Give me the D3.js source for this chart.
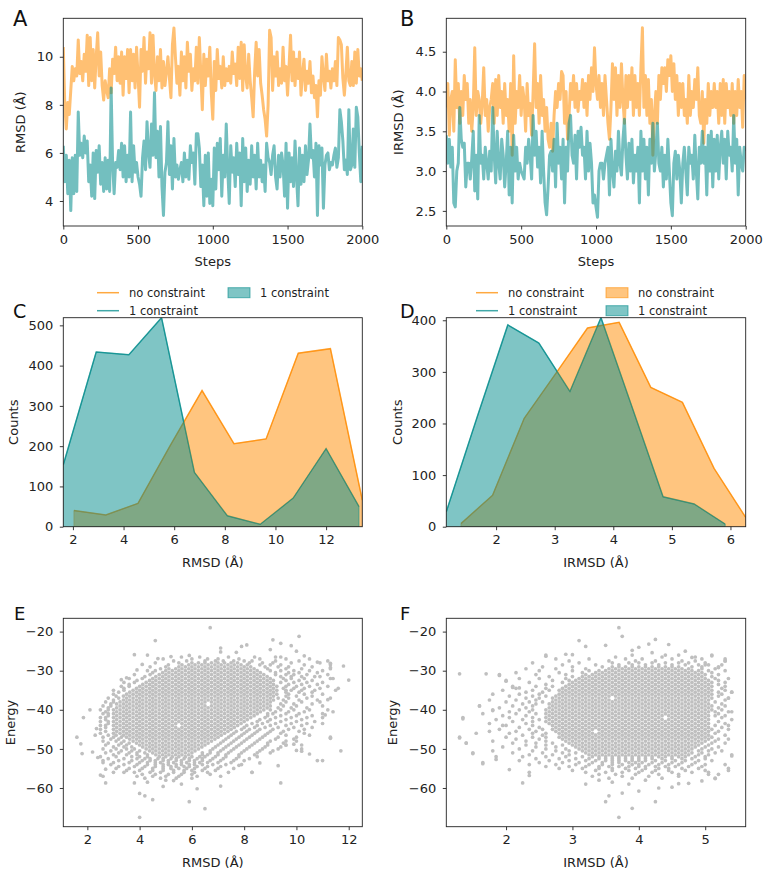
<!DOCTYPE html>
<html><head><meta charset="utf-8">
<script src="https://cdn.jsdelivr.net/npm/d3@7"></script>
<style>body{margin:0;background:#fff;}</style>
</head><body><svg id="fig" width="769" height="879" xmlns="http://www.w3.org/2000/svg"></svg>
<script>
// ---------------- DATA ----------------
const stepInterval = 10;
const stepTicks = [0, 500, 1000, 1500, 2000];
const seriesNames = ["no constraint", "1 constraint"];

const rmsdNoConstraint = [
10.4,8.0,7.0,8.1,7.6,8.6,9.6,9.0,9.5,9.2,
10.7,9.3,9.8,9.0,10.1,9.4,10.9,8.8,10.8,9.0,
10.3,8.7,10.0,11.0,9.2,10.2,8.8,8.2,9.0,8.6,
8.3,9.5,8.5,9.9,9.3,10.4,9.0,10.0,8.9,10.2,
8.4,10.0,9.1,10.3,8.5,10.3,9.0,10.1,8.7,10.4,
9.2,7.9,10.3,9.4,10.8,8.9,10.2,9.5,11.0,8.9,
10.9,9.3,8.6,10.0,9.0,10.3,8.7,9.8,8.8,9.4,
10.0,9.1,8.3,10.5,11.2,10.0,8.9,9.6,8.4,10.2,
9.0,10.0,8.7,10.6,9.4,10.1,8.6,9.5,9.0,10.4,
8.9,10.8,9.3,7.8,10.1,8.8,9.9,9.2,10.4,8.5,
7.4,9.8,8.6,10.3,9.1,9.6,8.7,10.0,8.8,9.5,
9.0,9.6,8.9,10.2,9.3,9.7,8.8,10.4,9.1,10.6,
8.6,10.5,9.2,8.7,10.1,9.0,8.3,7.5,9.4,10.6,
9.2,10.3,8.9,8.4,7.8,7.4,6.7,8.0,11.1,10.8,
8.6,10.0,9.2,10.2,8.8,9.5,8.9,10.4,9.0,9.6,
8.4,9.6,10.9,9.0,10.2,8.8,9.9,9.1,10.2,8.4,
9.3,9.9,8.6,9.4,8.9,9.8,8.5,9.2,8.3,8.8,
7.5,9.0,8.4,10.0,9.2,8.6,10.1,9.0,9.4,8.7,
9.5,9.0,9.8,8.8,10.8,10.7,10.5,9.1,8.4,9.3,
10.4,9.0,8.8,9.8,8.8,10.2,8.9,10.3,9.2,9.5,
9.0];
const rmsdOneConstraint = [
6.3,4.8,5.9,4.3,5.7,3.6,5.8,4.3,5.9,4.4,
7.7,5.9,6.4,5.8,6.7,6.0,6.5,4.8,5.5,4.2,
6.0,4.1,6.1,5.2,6.3,4.7,5.6,4.4,5.8,4.5,
5.7,4.4,8.7,5.5,4.3,5.6,5.4,6.1,5.3,6.4,
5.0,6.3,4.8,5.9,5.0,7.7,4.8,6.3,5.2,5.6,
5.0,4.7,4.2,5.8,6.5,5.3,7.3,6.0,5.4,7.2,
5.9,8.5,5.8,6.9,5.0,7.1,4.6,3.4,5.2,5.6,
7.3,5.1,6.3,4.5,6.6,5.0,5.5,4.9,5.3,5.6,
4.8,6.0,5.0,5.7,4.9,6.3,5.6,6.0,4.7,6.8,
6.8,6.2,4.6,5.5,3.8,5.9,4.2,6.0,3.9,4.9,
3.8,6.2,4.5,6.4,5.3,6.6,4.2,5.9,5.0,7.2,
5.3,3.9,6.3,5.2,5.8,4.6,6.4,5.1,6.0,3.8,
6.6,4.8,6.2,4.4,5.7,4.7,6.3,5.0,5.9,4.5,
6.4,5.0,5.7,4.8,5.5,4.4,6.4,5.8,5.6,5.1,
5.9,6.3,5.0,4.5,5.9,5.0,6.0,5.5,4.2,6.4,
3.7,6.0,4.8,5.8,4.6,6.5,5.0,3.8,6.2,4.7,
5.9,4.8,6.3,5.1,5.7,7.2,5.8,6.1,5.0,6.4,
3.4,6.3,5.5,6.2,3.7,5.5,5.9,6.0,5.3,5.6,
5.5,5.9,6.2,5.4,5.8,7.8,7.3,6.5,5.3,5.7,
5.1,7.8,5.3,5.5,7.0,5.4,7.9,7.5,6.0,4.8,
6.3];
const irmsdNoConstraint = [
3.8,4.1,3.45,3.9,4.0,3.5,4.4,3.8,4.1,3.6,
4.0,3.7,4.2,3.9,4.1,3.6,3.9,3.5,3.8,4.55,
3.7,4.0,3.9,3.6,3.85,4.3,3.7,3.9,3.5,3.8,
3.9,4.1,3.6,4.15,3.7,4.2,3.8,4.0,3.6,4.1,
3.7,3.9,3.5,4.1,3.2,4.45,3.6,4.0,3.8,4.2,
3.7,4.05,3.9,3.5,4.1,3.7,3.85,3.45,4.0,4.6,
3.8,4.1,3.6,4.2,3.7,3.9,3.5,3.8,3.4,3.3,
3.6,3.25,3.7,4.0,3.8,4.1,3.9,4.25,4.2,3.6,
4.0,3.4,3.7,4.1,3.9,4.2,3.8,4.1,3.75,4.0,
3.9,4.15,3.8,4.1,3.7,4.2,3.9,4.3,4.0,4.55,
4.1,3.9,4.2,3.8,4.1,3.7,4.2,3.9,3.6,3.4,
3.8,4.35,3.9,4.3,3.7,4.2,3.8,4.35,3.9,3.6,
4.2,3.8,4.2,3.9,4.3,3.7,4.2,3.8,4.1,3.7,
4.3,4.8,3.8,4.2,3.7,4.15,3.6,3.9,3.2,3.7,
4.0,3.6,4.2,3.9,4.3,4.1,4.3,4.0,4.4,4.2,
4.45,4.0,4.35,3.9,4.2,3.7,4.1,3.8,4.1,3.7,
3.9,3.6,4.2,3.7,4.0,3.8,4.15,3.9,4.3,3.7,
3.6,4.0,3.35,3.9,3.6,4.1,3.7,4.0,3.8,4.1,
3.8,4.0,3.6,4.1,3.7,4.15,3.6,4.1,3.8,4.0,
3.7,4.1,3.6,4.0,3.7,4.15,3.8,4.0,3.55,4.2,
3.9];
const irmsdOneConstraint = [
3.45,3.1,3.4,3.05,3.3,2.6,2.55,3.0,3.1,3.8,
3.4,3.3,3.35,2.8,3.1,3.1,2.9,3.15,3.5,2.75,
3.2,2.65,3.7,3.1,3.2,2.9,3.3,3.1,2.9,3.25,
3.0,3.8,3.2,2.85,3.5,3.1,2.9,3.4,3.2,2.8,
3.1,3.5,2.7,3.3,2.6,3.45,3.0,3.3,2.9,3.1,
3.0,2.95,2.9,3.3,3.1,3.4,3.2,2.9,3.7,3.2,
3.5,3.05,3.3,2.85,3.5,3.0,2.6,2.45,2.8,3.2,
3.25,3.0,3.4,2.8,3.6,3.1,3.3,2.9,3.4,2.6,
3.3,3.0,3.6,3.7,3.2,3.1,3.45,2.9,3.5,3.3,
3.55,3.2,3.3,2.9,3.5,3.0,3.35,3.1,2.6,2.7,
2.55,2.42,3.0,3.1,3.1,2.9,3.1,3.2,3.3,2.7,
3.4,3.0,2.8,3.25,3.0,3.5,3.1,2.95,3.4,3.65,
3.2,2.9,3.35,3.0,3.4,2.85,3.2,3.0,3.3,2.6,
3.5,3.0,3.4,2.9,3.3,2.7,3.4,3.1,3.6,3.0,
3.25,3.6,3.1,3.0,3.3,2.8,3.2,2.9,3.4,3.0,
2.6,2.44,3.1,3.25,2.9,3.2,3.0,2.6,3.1,3.3,
3.0,2.7,3.3,3.1,3.2,2.9,3.45,3.0,2.65,3.3,
3.1,3.5,3.1,3.3,2.7,3.45,3.0,3.5,2.8,3.4,
3.0,3.45,2.9,3.3,3.5,3.1,3.4,2.9,3.5,3.2,
3.3,3.0,3.7,3.1,3.4,2.7,3.3,3.1,3.0,3.3,
3.25];

// histogram (frequency polygon) data
const histRmsdNoX  = [2.04,3.30,4.57,5.83,7.10,8.36,9.63,10.90,12.17,13.43];
const histRmsdNoY  = [40,29,58,200,338,206,218,431,442,66];
const histRmsdOneX = [1.62,2.92,4.21,5.50,6.80,8.10,9.40,10.70,12.00,13.30];
const histRmsdOneY = [154,434,427,519,135,27,6,71,194,50];
const histIrmsdNoX  = [1.40,1.94,2.48,3.02,3.56,4.10,4.64,5.18,5.72,6.26];
const histIrmsdNoY  = [6,61,210,297,385,396,270,241,113,18];
const histIrmsdOneX = [1.15,1.67,2.20,2.73,3.26,3.79,4.32,4.85,5.38,5.91];
const histIrmsdOneY = [29,210,391,356,262,405,232,58,44,5];

// scatter E: RMSD vs Energy -- rows [energy, [rmsd values]] + isolated points
const energyRmsdRows = [
[-26.5,[5.6,6.3,7.4,8.4,9.2]],
[-27,[4.9,6.0,6.6,7.0,7.8,8.6,9.6,10.5]],
[-27.5,[5.3,5.8,6.5,6.9,7.2,7.6,8.0,8.3,9.2,10.1,11.2]],
[-28,[4.6,5.5,6.0,6.25,6.5,6.75,7.0,7.25,7.5,7.75,8.2,8.7,9.1,9.8,10.9]],
[-28.5,[5.1,5.62,5.88,6.12,6.38,6.62,6.88,7.12,7.38,7.62,7.88,8.12,8.6,9.0,9.4,10.3,11.3]],
[-29,[4.4,5.0,5.5,5.75,6.0,6.25,6.5,6.75,7.0,7.25,7.5,7.75,8.0,8.25,8.8,9.3,9.7,10.6]],
[-29.5,[4.8,5.12,5.38,5.62,5.88,6.12,6.38,6.62,6.88,7.12,7.38,7.62,7.88,8.12,8.38,8.9,9.6,10.2,11.3]],
[-30,[4.3,4.6,5.0,5.25,5.5,5.75,6.0,6.25,6.5,6.75,7.0,7.25,7.5,7.75,8.0,8.25,8.5,9.0,9.4,9.9,10.5,11.0]],
[-30.5,[4.5,4.88,5.12,5.38,5.62,5.88,6.12,6.38,6.62,6.88,7.12,7.38,7.62,7.88,8.12,8.38,8.62,9.2,9.7,10.1,10.8]],
[-31,[3.8,4.4,4.75,5.0,5.25,5.5,5.75,6.0,6.25,6.5,6.75,7.0,7.25,7.5,7.75,8.0,8.25,8.5,8.75,9.2,9.6,9.9,10.4,11.2]],
[-31.5,[4.2,4.62,4.88,5.12,5.38,5.62,5.88,6.12,6.38,6.62,6.88,7.12,7.38,7.62,7.88,8.12,8.38,8.62,8.88,9.4,9.8,10.2,10.7]],
[-32,[3.6,4.1,4.5,4.75,5.0,5.25,5.5,5.75,6.0,6.25,6.5,6.75,7.0,7.25,7.5,7.75,8.0,8.25,8.5,8.75,9.0,9.5,9.8,10.3,11.3]],
[-32.5,[3.9,4.38,4.62,4.88,5.12,5.38,5.62,5.88,6.12,6.38,6.62,6.88,7.12,7.38,7.62,7.88,8.12,8.38,8.62,8.88,9.12,9.6,10.1,10.6]],
[-33,[3.4,3.8,4.25,4.5,4.75,5.0,5.25,5.5,5.75,6.0,6.25,6.5,6.75,7.0,7.25,7.5,7.75,8.0,8.25,8.5,8.75,9.0,9.4,9.9,10.4,11.0]],
[-33.5,[3.6,4.12,4.38,4.62,4.88,5.12,5.38,5.62,5.88,6.12,6.38,6.62,6.88,7.12,7.38,7.62,7.88,8.12,8.38,8.62,8.88,9.12,9.7,10.2,10.8]],
[-34,[3.3,3.6,4.0,4.25,4.5,4.75,5.0,5.25,5.5,5.75,6.0,6.25,6.5,6.75,7.0,7.25,7.5,7.75,8.0,8.25,8.5,8.75,9.0,9.25,9.6,10.0,10.5,11.2]],
[-34.5,[3.4,3.88,4.12,4.38,4.62,4.88,5.12,5.38,5.62,5.88,6.12,6.38,6.62,6.88,7.12,7.38,7.62,7.88,8.12,8.38,8.62,8.88,9.12,9.5,9.9,10.3,10.9]],
[-35,[3.0,3.4,3.75,4.0,4.25,4.5,4.75,5.0,5.25,5.5,5.75,6.0,6.25,6.5,6.75,7.0,7.25,7.5,7.75,8.0,8.25,8.5,8.75,9.0,9.25,9.6,9.8,10.2,10.7,11.5]],
[-35.5,[3.2,3.62,3.88,4.12,4.38,4.62,4.88,5.12,5.38,5.62,5.88,6.12,6.38,6.62,6.88,7.12,7.38,7.62,7.88,8.12,8.38,8.62,8.88,9.12,9.6,10.1,10.6]],
[-36,[3.0,3.5,3.75,4.0,4.25,4.5,4.75,5.0,5.25,5.5,5.75,6.0,6.25,6.5,6.75,7.0,7.25,7.5,7.75,8.0,8.25,8.5,8.75,9.0,9.25,9.7,10.3,11.0]],
[-36.5,[3.1,3.38,3.62,3.88,4.12,4.38,4.62,4.88,5.12,5.38,5.62,5.88,6.12,6.38,6.62,6.88,7.12,7.38,7.62,7.88,8.12,8.38,8.62,8.88,9.12,9.6,10.0,10.6]],
[-37,[2.8,3.2,3.5,3.75,4.0,4.25,4.5,4.75,5.0,5.25,5.5,5.75,6.0,6.25,6.5,6.75,7.0,7.25,7.5,7.75,8.0,8.25,8.5,8.75,9.0,9.3,9.7,10.4,11.3]],
[-37.5,[3.0,3.38,3.62,3.88,4.12,4.38,4.62,4.88,5.12,5.38,5.62,5.88,6.12,6.38,6.62,6.88,7.12,7.38,7.62,7.88,8.12,8.38,8.62,8.88,9.12,9.5,10.1,10.8]],
[-38,[2.7,3.0,3.25,3.5,3.75,4.0,4.25,4.5,4.75,5.0,5.25,5.5,5.75,6.0,6.25,6.5,6.75,7.0,7.25,7.5,7.75,8.0,8.25,8.5,8.75,9.0,9.6,10.2,10.9]],
[-38.5,[2.9,3.12,3.38,3.62,3.88,4.12,4.38,4.62,4.88,5.12,5.38,5.62,5.88,6.12,6.38,6.88,7.12,7.38,7.62,7.88,8.12,8.38,8.62,8.88,9.4,9.9,10.6]],
[-39,[2.6,2.9,3.25,3.5,3.75,4.0,4.25,4.5,4.75,5.0,5.25,5.5,5.75,6.0,6.25,6.5,6.75,7.0,7.25,7.5,7.75,8.0,8.25,8.5,8.75,9.0,9.5,10.0,11.0]],
[-39.5,[2.8,3.12,3.38,3.62,3.88,4.12,4.38,4.62,4.88,5.12,5.38,5.62,5.88,6.12,6.38,6.62,6.88,7.12,7.38,7.62,7.88,8.12,8.38,8.62,8.88,9.3,9.8,10.4]],
[-40,[2.5,2.8,3.0,3.25,3.5,3.75,4.0,4.25,4.5,4.75,5.0,5.25,5.5,5.75,6.0,6.25,6.5,6.75,7.0,7.25,7.5,7.75,8.0,8.25,8.5,8.75,9.0,9.4,9.9,10.5,11.2]],
[-40.5,[2.7,3.12,3.38,3.62,3.88,4.12,4.38,4.62,4.88,5.12,5.38,5.62,5.88,6.12,6.38,6.62,6.88,7.12,7.38,7.62,7.88,8.12,8.38,8.62,9.2,9.7,10.3]],
[-41,[2.6,2.8,3.0,3.25,3.5,3.75,4.0,4.25,4.5,4.75,5.0,5.25,5.5,5.75,6.0,6.25,6.5,6.75,7.0,7.25,7.5,7.75,8.0,8.25,8.5,8.9,9.1,9.6,10.1,11.0]],
[-41.5,[2.8,3.12,3.38,3.62,3.88,4.12,4.38,4.62,4.88,5.12,5.38,5.62,5.88,6.12,6.38,6.62,6.88,7.12,7.38,7.62,7.88,8.12,8.38,8.9,9.4,10.0,10.6]],
[-42,[2.5,2.7,3.0,3.25,3.5,3.75,4.0,4.25,4.5,4.75,5.0,5.25,5.5,5.75,6.0,6.25,6.5,6.75,7.0,7.25,7.5,7.75,8.0,8.25,8.8,9.2,9.8,10.4,11.0]],
[-42.5,[2.7,3.12,3.38,3.62,3.88,4.12,4.38,4.62,4.88,5.12,5.38,5.62,5.88,6.12,6.38,6.62,6.88,7.12,7.38,7.62,7.88,8.12,8.6,9.0,9.6,10.2]],
[-43,[2.5,2.8,3.0,3.25,3.5,3.75,4.0,4.25,4.5,4.75,5.0,5.25,5.5,5.75,6.0,6.25,6.5,6.75,7.0,7.25,7.5,7.75,8.0,8.5,8.9,9.4,10.0,10.7]],
[-43.5,[2.8,3.12,3.38,3.62,3.88,4.12,4.38,4.62,4.88,5.12,5.38,5.62,5.88,6.12,6.38,6.62,6.88,7.12,7.38,7.62,7.88,8.3,8.7,9.2,9.8,10.4]],
[-44,[2.5,2.7,3.0,3.25,3.5,3.75,4.0,4.25,4.5,4.75,5.0,5.25,5.75,6.0,6.25,6.5,6.75,7.0,7.25,7.5,7.75,8.1,8.5,9.0,9.6,10.2]],
[-44.5,[2.7,3.12,3.38,3.62,3.88,4.12,4.38,4.62,4.88,5.12,5.38,5.62,5.88,6.12,6.38,6.62,6.88,7.12,7.38,7.62,8.0,8.4,8.8,9.3,9.9,10.6]],
[-45,[2.5,3.0,3.25,3.5,3.75,4.0,4.25,4.5,4.75,5.0,5.25,5.5,5.75,6.0,6.25,6.5,6.75,7.0,7.25,7.5,7.9,8.2,8.6,9.1,9.7,10.3]],
[-45.5,[2.7,3.12,3.38,3.62,3.88,4.12,4.38,4.62,4.88,5.12,5.38,5.62,5.88,6.12,6.38,6.62,6.88,7.12,7.38,7.7,8.1,8.5,9.0,9.5,10.1]],
[-46,[2.5,3.0,3.25,3.5,3.75,4.0,4.25,4.5,4.75,5.0,5.25,5.5,5.75,6.0,6.25,6.5,6.75,7.0,7.25,7.6,8.0,8.4,8.9,9.4,10.3]],
[-46.5,[2.8,3.1,3.38,3.62,3.88,4.12,4.38,4.62,4.88,5.12,5.38,5.62,5.88,6.12,6.38,6.62,6.88,7.12,7.5,7.9,8.3,8.8,9.6,10.5]],
[-47,[2.6,3.0,3.3,3.5,3.75,4.0,4.25,4.5,4.75,5.0,5.25,5.5,5.75,6.0,6.25,6.5,6.75,7.0,7.4,7.8,8.2,8.7,9.3,10.0,11.3]],
[-47.5,[2.9,3.2,3.62,3.88,4.12,4.38,4.62,4.88,5.12,5.38,5.62,5.88,6.12,6.38,6.62,6.88,7.3,7.7,8.1,8.6,9.2,9.9]],
[-48,[2.6,3.1,3.4,3.75,4.0,4.25,4.5,4.75,5.0,5.25,5.5,5.75,6.0,6.25,6.5,6.75,7.2,7.6,8.0,8.5,9.0,9.6,10.0]],
[-48.5,[2.8,3.3,3.6,3.88,4.12,4.38,4.62,4.88,5.12,5.38,5.62,5.88,6.12,6.38,6.62,7.1,7.5,7.9,8.4,8.9,9.5]],
[-49,[2.7,3.2,3.5,4.0,4.25,4.5,4.75,5.0,5.25,5.5,5.75,6.0,6.25,6.5,7.0,7.4,7.8,8.3,8.9,9.6,10.2]],
[-49.5,[3.0,3.4,3.7,4.12,4.38,4.62,4.88,5.12,5.38,5.62,5.88,6.12,6.38,6.9,7.3,7.7,8.2,8.8,9.4]],
[-50,[2.6,3.1,3.5,3.8,4.25,4.5,4.75,5.0,5.25,5.5,5.75,6.0,6.25,6.8,7.2,7.6,8.1,8.7,9.3,10.2]],
[-50.5,[2.9,3.3,3.7,4.0,4.38,4.62,4.88,5.12,5.38,5.62,5.88,6.12,6.7,7.1,7.5,8.0,8.6,9.1]],
[-51,[2.7,3.2,3.6,3.9,4.2,4.5,4.75,5.0,5.25,5.5,5.75,6.0,6.4,6.7,7.0,7.4,7.9,8.5,9.0]],
[-51.5,[3.0,3.5,3.9,4.3,4.62,4.88,5.12,5.38,5.62,5.88,6.4,6.6,7.0,7.3,7.8,8.4]],
[-52,[2.5,3.1,3.7,4.0,4.3,4.75,5.0,5.25,5.5,5.75,6.0,6.3,6.5,6.9,7.3,7.8,8.5]],
[-52.5,[2.8,3.4,3.9,4.2,4.4,4.7,4.9,5.2,5.4,5.7,5.9,6.2,6.4,6.8,7.2,7.7,8.2]],
[-53,[2.6,3.2,3.7,4.1,4.4,4.6,4.9,5.1,5.4,5.6,5.9,6.1,6.4,6.7,7.1,7.6,8.0]],
[-53.5,[3.0,3.6,4.0,4.3,4.6,4.8,5.1,5.3,5.6,5.8,6.1,6.3,6.6,7.0,7.5]],
[-54,[2.9,3.4,3.9,4.3,4.6,4.9,5.1,5.4,5.6,5.9,6.1,6.4,6.8,7.3,7.9]],
[-54.5,[3.2,3.8,4.2,4.6,4.9,5.2,5.4,5.7,5.9,6.2,6.6,7.1]],
[-55,[3.1,3.6,4.1,4.5,4.9,5.2,5.5,5.8,6.1,6.5,7.0,7.6]],
[-55.5,[3.5,4.0,4.5,4.9,5.3,5.7,6.0,6.4,6.9]],
[-56,[3.4,3.8,4.4,4.8,5.3,5.7,6.1,6.6,7.4,8.3]],
[-56.5,[4.1,4.6,5.1,5.6,6.0,6.7]],
[-57,[2.6,3.9,4.5,5.0,5.5,6.2,7.1]],
[-57.5,[4.2,4.8,5.4,6.0]]
];
const energyRmsdSingles = [
[6.7,-19.0],[10.1,-21.2],[4.6,-22.3],[9.1,-22.1],[9.4,-23.0],[9.8,-23.6],[8.1,-23.4],[7.9,-23.8],[7.1,-24.2],[7.1,-25.2],
[7.7,-25.3],[9.0,-24.6],[10.0,-25.0],[3.8,-25.9],[4.3,-26.0],[9.4,-26.5],[10.3,-26.2],[10.8,-27.8],[11.3,-28.1],[11.8,-28.8],
[12.0,-32.4],[11.6,-34.5],[11.3,-29.2],[11.4,-32.0],[10.9,-31.5],[11.2,-37.4],[11.4,-40.5],[11.1,-41.3],[11.0,-43.5],[11.3,-47.3],
[11.7,-50.5],[11.0,-53.0],[10.8,-53.0],[10.5,-51.3],[10.2,-50.6],[10.0,-50.4],[9.9,-48.8],[9.6,-49.0],[9.4,-58.7],[9.3,-54.3],
[8.3,-56.0],[8.6,-53.6],[7.8,-54.2],[7.1,-59.5],[6.2,-60.2],[5.9,-63.5],[6.5,-65.3],[4.0,-67.5],[4.5,-63.0],[4.2,-62.0],
[4.0,-61.4],[3.8,-58.7],[4.3,-58.5],[4.9,-59.6],[5.0,-58.0],[5.3,-58.1],[5.6,-59.0],[2.7,-58.7],[2.5,-56.7],[2.4,-52.2],
[1.6,-47.0],[1.75,-48.7],[1.8,-51.2],[1.85,-42.0],[2.1,-40.0],[2.3,-46.5],[2.2,-50.8],[2.35,-44.8],[2.6,-53.5],[2.7,-55.2],
[3.0,-56.0],[3.3,-32.3],[3.5,-31.8],[3.9,-29.8],[4.1,-28.4],[4.7,-26.9],[5.2,-26.4],[5.9,-26.1]
];

// scatter F: IRMSD vs Energy
const energyIrmsdRows = [
[-26,[2.6,3.9,4.6,5.1]],
[-26.5,[3.65,4.35,4.85]],
[-27,[2.75,3.25,3.8,4.05,4.5,4.95,5.3]],
[-27.5,[2.95,3.55,3.95,4.25,4.65,4.85,5.3]],
[-28,[2.4,3.1,3.6,3.85,4.0,4.2,4.4,4.6,4.75,5.0]],
[-28.5,[2.85,3.35,3.7,3.9,4.1,4.3,4.5,4.7,4.9,5.05,5.25]],
[-29,[2.55,3.0,3.45,3.6,3.7,3.8,3.9,4.0,4.1,4.2,4.3,4.4,4.5,4.6,4.8,4.95,5.2]],
[-29.5,[2.3,2.75,3.2,3.55,3.65,3.75,3.85,3.95,4.05,4.15,4.25,4.35,4.45,4.55,4.65,4.75,4.95,5.15]],
[-30,[2.5,3.0,3.25,3.4,3.5,3.6,3.7,3.8,3.9,4.0,4.1,4.2,4.3,4.4,4.5,4.6,4.7,4.8,4.9,5.05,5.3]],
[-30.5,[2.15,2.8,3.15,3.35,3.45,3.55,3.65,3.75,3.85,3.95,4.05,4.15,4.25,4.35,4.45,4.55,4.65,4.75,4.85,4.95,5.1]],
[-31,[1.9,2.45,2.9,3.2,3.3,3.4,3.5,3.6,3.7,3.8,3.9,4.0,4.1,4.2,4.3,4.4,4.5,4.6,4.7,4.8,4.9,5.0,5.2]],
[-31.5,[2.65,3.0,3.15,3.25,3.35,3.45,3.55,3.65,3.75,3.85,3.95,4.05,4.15,4.25,4.35,4.45,4.55,4.65,4.75,4.85,4.95,5.1]],
[-32,[2.2,2.5,2.9,3.1,3.2,3.3,3.4,3.5,3.6,3.7,3.8,3.9,4.0,4.1,4.2,4.3,4.4,4.5,4.6,4.7,4.8,4.9,5.0,5.15,5.35]],
[-32.5,[2.0,2.7,2.95,3.05,3.15,3.25,3.35,3.45,3.55,3.65,3.75,3.85,3.95,4.05,4.15,4.25,4.35,4.45,4.55,4.65,4.75,4.85,4.95,5.05,5.2]],
[-33,[2.35,2.85,3.0,3.1,3.2,3.3,3.4,3.5,3.6,3.7,3.8,3.9,4.0,4.1,4.2,4.3,4.4,4.5,4.6,4.7,4.8,4.9,5.0,5.1,5.3]],
[-33.5,[2.6,2.95,3.05,3.15,3.25,3.35,3.45,3.55,3.65,3.75,3.85,3.95,4.05,4.15,4.25,4.35,4.45,4.55,4.65,4.75,4.85,4.95,5.05,5.2]],
[-34,[2.1,2.45,2.7,2.9,3.0,3.1,3.2,3.3,3.4,3.5,3.6,3.7,3.8,3.9,4.0,4.1,4.2,4.3,4.4,4.5,4.6,4.7,4.8,4.9,5.0,5.1,5.3]],
[-34.5,[2.15,2.6,2.85,2.95,3.05,3.15,3.25,3.35,3.45,3.55,3.65,3.75,3.85,3.95,4.05,4.15,4.25,4.35,4.45,4.55,4.65,4.75,4.85,4.95,5.05,5.25]],
[-35,[1.95,2.4,2.65,2.8,2.9,3.0,3.1,3.2,3.3,3.4,3.5,3.6,3.7,3.8,3.9,4.0,4.1,4.2,4.3,4.4,4.5,4.6,4.7,4.8,4.9,5.0,5.1,5.3]],
[-35.5,[2.3,2.55,2.85,2.95,3.05,3.15,3.25,3.35,3.45,3.55,3.65,3.75,3.85,3.95,4.05,4.15,4.25,4.35,4.45,4.55,4.65,4.75,4.85,4.95,5.05,5.2,5.4]],
[-36,[1.8,2.2,2.5,2.8,2.9,3.0,3.1,3.2,3.3,3.4,3.5,3.6,3.7,3.8,3.9,4.0,4.1,4.2,4.3,4.4,4.5,4.6,4.7,4.8,4.9,5.0,5.1,5.25]],
[-36.5,[2.05,2.4,2.6,2.75,2.85,2.95,3.05,3.15,3.25,3.35,3.45,3.55,3.65,3.75,3.85,3.95,4.05,4.15,4.25,4.35,4.45,4.55,4.65,4.75,4.85,4.95,5.05,5.2]],
[-37,[2.3,2.5,2.7,2.8,2.9,3.0,3.1,3.2,3.3,3.4,3.5,3.7,3.8,3.9,4.0,4.1,4.2,4.3,4.4,4.5,4.6,4.7,4.8,4.9,5.0,5.1,5.35]],
[-37.5,[1.75,2.15,2.45,2.75,2.85,2.95,3.05,3.15,3.25,3.35,3.45,3.55,3.65,3.75,3.85,3.95,4.05,4.15,4.25,4.35,4.45,4.55,4.65,4.75,4.85,4.95,5.05,5.3]],
[-38,[2.0,2.35,2.55,2.7,2.8,2.9,3.0,3.1,3.2,3.3,3.4,3.5,3.6,3.7,3.8,3.9,4.0,4.1,4.2,4.3,4.4,4.5,4.6,4.7,4.8,4.9,5.0,5.15]],
[-38.5,[2.25,2.45,2.65,2.75,2.85,2.95,3.05,3.15,3.25,3.35,3.45,3.55,3.65,3.75,3.85,3.95,4.05,4.15,4.25,4.35,4.45,4.55,4.65,4.75,4.85,4.95,5.05,5.25]],
[-39,[1.6,2.1,2.4,2.7,2.8,2.9,3.0,3.1,3.2,3.3,3.4,3.5,3.6,3.7,3.8,3.9,4.0,4.1,4.2,4.3,4.4,4.5,4.6,4.7,4.8,4.9,5.0,5.1,5.3]],
[-39.5,[1.9,2.3,2.65,2.75,2.85,2.95,3.05,3.15,3.25,3.35,3.45,3.55,3.65,3.75,3.85,3.95,4.05,4.15,4.25,4.35,4.45,4.55,4.65,4.75,4.85,4.95,5.05,5.2]],
[-40,[1.8,2.2,2.4,2.6,2.7,2.8,2.9,3.0,3.1,3.2,3.3,3.4,3.5,3.6,3.7,3.8,3.9,4.0,4.1,4.2,4.3,4.4,4.5,4.6,4.7,4.8,4.9,5.0,5.1,5.25]],
[-40.5,[2.05,2.35,2.65,2.75,2.85,2.95,3.05,3.15,3.25,3.35,3.45,3.55,3.65,3.75,3.85,3.95,4.05,4.15,4.25,4.35,4.45,4.55,4.65,4.75,4.85,4.95,5.05,5.15,5.35]],
[-41,[1.65,2.15,2.45,2.6,2.7,2.8,2.9,3.0,3.1,3.2,3.3,3.4,3.5,3.6,3.7,3.8,3.9,4.0,4.1,4.2,4.3,4.4,4.5,4.6,4.7,4.8,4.9,5.0,5.2]],
[-41.5,[1.95,2.3,2.65,2.75,2.85,2.95,3.05,3.15,3.25,3.35,3.45,3.55,3.65,3.75,3.85,3.95,4.05,4.15,4.25,4.35,4.45,4.55,4.65,4.75,4.85,4.95,5.05,5.15,5.3]],
[-42,[1.35,2.05,2.4,2.6,2.7,2.8,2.9,3.0,3.1,3.2,3.3,3.4,3.5,3.6,3.7,3.8,3.9,4.0,4.1,4.2,4.3,4.5,4.6,4.7,4.8,4.9,5.0,5.25]],
[-42.5,[1.85,2.25,2.5,2.65,2.75,2.85,2.95,3.05,3.15,3.25,3.35,3.45,3.55,3.65,3.75,3.85,3.95,4.05,4.15,4.25,4.35,4.45,4.55,4.65,4.75,4.85,4.95,5.05,5.4]],
[-43,[2.1,2.4,2.6,2.7,2.8,2.9,3.0,3.1,3.2,3.3,3.4,3.5,3.6,3.7,3.8,3.9,4.0,4.1,4.2,4.3,4.4,4.5,4.6,4.7,4.8,4.9,5.0,5.2]],
[-43.5,[1.75,2.3,2.65,2.75,2.85,2.95,3.05,3.15,3.25,3.35,3.45,3.55,3.65,3.75,3.85,3.95,4.05,4.15,4.25,4.35,4.45,4.55,4.65,4.75,4.85,4.95,5.05,5.3]],
[-44,[2.0,2.4,2.7,2.8,2.9,3.0,3.1,3.2,3.3,3.4,3.5,3.6,3.7,3.8,3.9,4.0,4.1,4.2,4.3,4.4,4.5,4.6,4.7,4.8,4.9,5.0,5.15]],
[-44.5,[2.2,2.5,2.75,2.85,2.95,3.05,3.15,3.25,3.35,3.45,3.55,3.65,3.75,3.85,3.95,4.05,4.15,4.25,4.35,4.45,4.55,4.65,4.75,4.85,4.95,5.05,5.25]],
[-45,[1.9,2.35,2.55,2.7,2.8,2.9,3.0,3.1,3.2,3.3,3.4,3.5,3.6,3.7,3.8,3.9,4.0,4.1,4.2,4.3,4.4,4.5,4.6,4.7,4.8,4.9,5.0,5.1,5.35]],
[-45.5,[2.15,2.45,2.75,2.85,2.95,3.05,3.15,3.25,3.45,3.55,3.65,3.75,3.85,3.95,4.05,4.15,4.25,4.35,4.45,4.55,4.65,4.75,4.85,4.95,5.05,5.2]],
[-46,[1.55,2.05,2.4,2.6,2.8,2.9,3.0,3.1,3.2,3.3,3.4,3.5,3.6,3.7,3.8,3.9,4.0,4.1,4.2,4.3,4.4,4.5,4.6,4.7,4.8,4.9,5.0,5.15]],
[-46.5,[2.25,2.55,2.85,2.95,3.05,3.15,3.25,3.35,3.45,3.55,3.65,3.75,3.85,3.95,4.05,4.15,4.25,4.35,4.45,4.55,4.65,4.75,4.85,4.95,5.05,5.3]],
[-47,[1.3,2.0,2.4,2.6,2.8,2.9,3.0,3.1,3.2,3.3,3.4,3.5,3.6,3.7,3.8,3.9,4.0,4.1,4.2,4.3,4.4,4.5,4.6,4.7,4.8,4.9,5.0,5.1]],
[-47.5,[2.15,2.5,2.85,2.95,3.05,3.15,3.25,3.35,3.45,3.55,3.65,3.75,3.85,3.95,4.05,4.15,4.25,4.35,4.45,4.55,4.65,4.75,4.85,4.95,5.05,5.2]],
[-48,[1.8,2.3,2.6,2.9,3.0,3.1,3.2,3.3,3.4,3.5,3.6,3.7,3.8,3.9,4.0,4.1,4.2,4.3,4.4,4.5,4.6,4.7,4.8,4.9,5.0,5.15]],
[-48.5,[1.4,2.1,2.45,2.7,2.95,3.05,3.15,3.25,3.35,3.45,3.55,3.65,3.75,3.85,3.95,4.05,4.15,4.25,4.35,4.45,4.55,4.65,4.75,4.85,4.95,5.1,5.3]],
[-49,[2.3,2.6,2.85,3.0,3.1,3.2,3.3,3.4,3.5,3.6,3.7,3.8,3.9,4.0,4.1,4.2,4.3,4.4,4.5,4.6,4.7,4.8,4.9,5.05]],
[-49.5,[1.95,2.45,2.75,3.05,3.15,3.25,3.35,3.45,3.55,3.65,3.75,3.85,3.95,4.05,4.15,4.25,4.35,4.45,4.55,4.65,4.75,4.85,5.0,5.2]],
[-50,[2.2,2.6,2.9,3.1,3.2,3.3,3.4,3.5,3.6,3.7,3.8,3.9,4.0,4.1,4.2,4.3,4.4,4.5,4.6,4.7,4.8,4.95,5.1]],
[-50.5,[1.8,2.4,2.75,2.95,3.15,3.25,3.35,3.45,3.55,3.65,3.75,3.85,3.95,4.05,4.15,4.25,4.35,4.45,4.55,4.65,4.75,4.9,5.05,5.25]],
[-51,[1.5,2.1,2.55,2.85,3.05,3.2,3.3,3.4,3.5,3.6,3.7,3.8,3.9,4.0,4.1,4.2,4.3,4.4,4.5,4.6,4.7,4.8,4.95,5.15]],
[-51.5,[2.35,2.7,2.95,3.25,3.35,3.45,3.55,3.65,3.75,3.85,3.95,4.05,4.15,4.25,4.35,4.45,4.55,4.65,4.75,4.9,5.05,5.4]],
[-52,[1.85,2.25,2.6,2.9,3.15,3.3,3.4,3.5,3.6,3.7,3.8,3.9,4.0,4.1,4.2,4.3,4.4,4.5,4.6,4.7,4.85,5.0]],
[-52.5,[2.45,2.8,3.05,3.25,3.4,3.5,3.6,3.7,3.8,3.9,4.0,4.1,4.2,4.35,4.5,4.65,4.8,5.0]],
[-53,[2.2,2.65,2.95,3.2,3.35,3.5,3.6,3.7,3.8,3.9,4.0,4.1,4.25,4.4,4.55,4.7,4.9,5.1]],
[-53.5,[1.65,2.5,2.85,3.1,3.3,3.45,3.6,3.7,3.85,3.95,4.05,4.2,4.35,4.5,4.65,4.85]],
[-54,[2.35,2.75,3.05,3.25,3.45,3.6,3.75,3.9,4.0,4.15,4.3,4.45,4.6,4.8,5.0,5.3]],
[-54.5,[2.6,2.95,3.2,3.4,3.55,3.7,3.85,4.0,4.1,4.25,4.4,4.55,4.75,4.95]],
[-55,[2.8,3.15,3.4,3.6,3.8,3.95,4.1,4.3,4.45,4.65,4.9,5.35]],
[-55.5,[3.0,3.35,3.6,3.85,4.05,4.25,4.45,4.7,5.0]],
[-56,[2.35,3.2,3.5,3.75,4.0,4.2,4.5,4.8,5.05]],
[-56.5,[3.4,3.65,3.95,4.3,4.6,5.2]],
[-57,[3.3,3.75,4.15,4.6]],
[-57.5,[3.55,3.9,4.35,5.15]]
];
const energyIrmsdSingles = [
[3.7,-19.0],[3.75,-21.2],[4.25,-22.0],[4.45,-23.3],[4.15,-23.2],[3.5,-23.5],[3.9,-24.8],[4.0,-24.0],[3.1,-22.3],[3.2,-23.8],
[2.9,-25.8],[3.0,-25.9],[2.6,-26.3],[4.2,-25.4],[4.7,-25.0],[4.8,-26.6],[4.4,-26.0],[2.0,-32.7],[1.7,-30.8],[1.3,-30.8],
[1.9,-31.2],[2.1,-34.3],[2.2,-34.4],[1.35,-42.3],[1.3,-47.2],[1.4,-48.5],[1.5,-51.2],[1.65,-53.8],[1.6,-39.0],[1.8,-40.2],
[1.85,-52.7],[1.75,-45.5],[1.95,-44.0],[2.25,-58.7],[2.35,-56.8],[2.05,-55.3],[3.2,-59.0],[3.5,-63.5],[3.7,-67.5],[3.9,-65.2],
[3.55,-62.0],[3.6,-58.5],[3.4,-58.0],[4.0,-60.8],[4.25,-63.5],[4.5,-59.8],[4.3,-60.0],[4.6,-58.9],[4.75,-58.8],[4.95,-58.2],
[5.05,-56.5],[5.15,-57.6],[3.75,-61.3],[3.85,-59.0],[4.1,-58.0],[5.35,-55.5],[5.4,-51.8],[5.35,-37.0],[5.4,-35.5],[5.3,-27.5],
[5.2,-29.2],[5.1,-26.2],[5.0,-28.5],[5.35,-44.0],[5.4,-40.5],[5.35,-47.5]
];

// ---------------- DRAWING ----------------
const FONT = '"DejaVu Sans", sans-serif';
const ORANGE = "darkorange", TEAL = "darkcyan";
const svg = d3.select("#fig");
svg.append("rect").attr("width",769).attr("height",879).attr("fill","#fff");

const boxes = {
  A:{x0:63.3,x1:362.3,y0:18.3,y1:226},
  B:{x0:446.3,x1:745.7,y0:18.3,y1:226},
  C:{x0:63.3,x1:362.3,y0:317.7,y1:526.7},
  D:{x0:446.3,x1:745.7,y0:317.7,y1:526.7},
  E:{x0:63.3,x1:362.3,y0:618.3,y1:826.7},
  F:{x0:446.3,x1:745.7,y0:618.3,y1:826.7}
};

function setup(key, xDom, yDom){
  const b = boxes[key];
  const x = d3.scaleLinear().domain(xDom).range([b.x0,b.x1]);
  const y = d3.scaleLinear().domain(yDom).range([b.y1,b.y0]);
  svg.append("clipPath").attr("id","clip"+key).append("rect")
    .attr("x",b.x0).attr("y",b.y0).attr("width",b.x1-b.x0).attr("height",b.y1-b.y0);
  const plot = svg.append("g").attr("clip-path",`url(#clip${key})`);
  return {key,b,x,y,plot};
}

function decorate(p, o){
  const {b,x,y} = p;
  const gx = svg.append("g").attr("transform",`translate(0,${b.y1})`)
    .call(d3.axisBottom(x).tickValues(o.xTicks).tickFormat(o.xFmt).tickSize(3.5).tickPadding(5));
  const gy = svg.append("g").attr("transform",`translate(${b.x0},0)`)
    .call(d3.axisLeft(y).tickValues(o.yTicks).tickFormat(o.yFmt).tickSize(3.5).tickPadding(6.5));
  [gx,gy].forEach(g=>{
    g.select(".domain").remove();
    g.selectAll("line").attr("stroke","#222").attr("stroke-width",0.9);
    g.selectAll("text").attr("font-size",13).attr("fill","#222").attr("font-family",FONT);
  });
  svg.append("rect").attr("x",b.x0).attr("y",b.y0).attr("width",b.x1-b.x0).attr("height",b.y1-b.y0)
    .attr("fill","none").attr("stroke","#222").attr("stroke-width",0.9);
  svg.append("text").attr("x",(b.x0+b.x1)/2).attr("y",o.xLabelY).attr("text-anchor","middle")
    .attr("font-size",13).attr("font-family",FONT).attr("fill","#222").text(o.xLabel);
  svg.append("text").attr("transform",`translate(${o.yLabelX},${(b.y0+b.y1)/2}) rotate(-90)`)
    .attr("text-anchor","middle").attr("font-size",13).attr("font-family",FONT).attr("fill","#222").text(o.yLabel);
  svg.append("text").attr("x",o.letterX).attr("y",o.letterY).attr("font-size",o.letterSize)
    .attr("font-family",FONT).attr("fill","#111").text(p.key);
}

// ---- A & B: trajectories ----
function trajectory(p, seriesList){
  seriesList.forEach(s=>{
    p.plot.append("path")
      .attr("d", d3.line().x((d,i)=>p.x(i*stepInterval)).y(d=>p.y(d))(s.values))
      .attr("fill","none").attr("stroke",s.color).attr("stroke-opacity",0.55)
      .attr("stroke-width",3).attr("stroke-linejoin","round");
  });
}
const pA = setup("A",[0,2000],[2.96,11.6]);
trajectory(pA,[{values:rmsdNoConstraint,color:ORANGE},{values:rmsdOneConstraint,color:TEAL}]);
decorate(pA,{xTicks:stepTicks,xFmt:d3.format("d"),yTicks:[4,6,8,10],yFmt:d3.format("d"),
  xLabel:"Steps",xLabelY:265.5,yLabel:"RMSD (Å)",yLabelX:25,letterX:13,letterY:26,letterSize:21});

const pB = setup("B",[0,2000],[2.31,4.92]);
trajectory(pB,[{values:irmsdNoConstraint,color:ORANGE},{values:irmsdOneConstraint,color:TEAL}]);
decorate(pB,{xTicks:stepTicks,xFmt:d3.format("d"),yTicks:[2.5,3.0,3.5,4.0,4.5],yFmt:d3.format(".1f"),
  xLabel:"Steps",xLabelY:265.5,yLabel:"IRMSD (Å)",yLabelX:402.7,letterX:400,letterY:26,letterSize:21});

// ---- C & D: distributions ----
function distribution(p, sets){
  sets.forEach(s=>{
    const pts = s.xs.map((v,i)=>[v,s.ys[i]]);
    p.plot.append("path").attr("d",d3.line().x(d=>p.x(d[0])).y(d=>p.y(d[1]))(pts))
      .attr("fill","none").attr("stroke",s.color).attr("stroke-opacity",0.75).attr("stroke-width",1.5);
  });
  sets.forEach(s=>{
    const pts = s.xs.map((v,i)=>[v,s.ys[i]]);
    p.plot.append("path").attr("d",d3.area().x(d=>p.x(d[0])).y0(p.y(0)).y1(d=>p.y(d[1]))(pts))
      .attr("fill",s.color).attr("fill-opacity",0.5).attr("stroke",s.color).attr("stroke-opacity",0.5).attr("stroke-width",1);
  });
}
function legend(lx, px, rowsY, lines, patches){
  lines.forEach((l,i)=>{
    svg.append("line").attr("x1",lx).attr("x2",lx+22).attr("y1",rowsY[i]).attr("y2",rowsY[i])
      .attr("stroke",l.color).attr("stroke-opacity",0.75).attr("stroke-width",1.5);
    svg.append("text").attr("x",lx+32).attr("y",rowsY[i]+4).attr("font-size",11.5).attr("font-family",FONT)
      .attr("fill","#222").text(l.label);
  });
  patches.forEach((l,i)=>{
    svg.append("rect").attr("x",px).attr("y",rowsY[i]-5).attr("width",22).attr("height",10)
      .attr("fill",l.color).attr("fill-opacity",0.5).attr("stroke",l.color).attr("stroke-opacity",0.6);
    svg.append("text").attr("x",px+32).attr("y",rowsY[i]+4).attr("font-size",11.5).attr("font-family",FONT)
      .attr("fill","#222").text(l.label);
  });
}

const pC = setup("C",[1.62,13.43],[0,519]);
distribution(pC,[{xs:histRmsdNoX,ys:histRmsdNoY,color:ORANGE},{xs:histRmsdOneX,ys:histRmsdOneY,color:TEAL}]);
decorate(pC,{xTicks:[2,4,6,8,10,12],xFmt:d3.format("d"),yTicks:[0,100,200,300,400,500],yFmt:d3.format("d"),
  xLabel:"RMSD (Å)",xLabelY:566.5,yLabel:"Counts",yLabelX:18,letterX:13,letterY:318,letterSize:19});
legend(97,228,[292.7,310.7],
  [{label:seriesNames[0],color:ORANGE},{label:seriesNames[1],color:TEAL}],
  [{label:seriesNames[1],color:TEAL}]);

const pD = setup("D",[1.15,6.26],[0,405]);
distribution(pD,[{xs:histIrmsdNoX,ys:histIrmsdNoY,color:ORANGE},{xs:histIrmsdOneX,ys:histIrmsdOneY,color:TEAL}]);
decorate(pD,{xTicks:[2,3,4,5,6],xFmt:d3.format("d"),yTicks:[0,100,200,300,400],yFmt:d3.format("d"),
  xLabel:"IRMSD (Å)",xLabelY:566.5,yLabel:"Counts",yLabelX:402,letterX:400,letterY:317.5,letterSize:19});
legend(476,606,[292.7,310.7],
  [{label:seriesNames[0],color:ORANGE},{label:seriesNames[1],color:TEAL}],
  [{label:seriesNames[0],color:ORANGE},{label:seriesNames[1],color:TEAL}]);

// ---- E & F: energy scatter ----
function scatter(p, rows, singles){
  const pts = rows.flatMap(([e,xs])=>xs.map(v=>[v,e])).concat(singles);
  p.plot.append("g").selectAll("circle").data(pts).join("circle")
    .attr("cx",d=>p.x(d[0])).attr("cy",d=>p.y(d[1])).attr("r",1.85).attr("fill","#bfbfbf");
}
const pE = setup("E",[1.08,12.52],[-69.9,-16.6]);
scatter(pE, energyRmsdRows, energyRmsdSingles);
decorate(pE,{xTicks:[2,4,6,8,10,12],xFmt:d3.format("d"),yTicks:[-60,-50,-40,-30,-20],yFmt:d3.format("d"),
  xLabel:"RMSD (Å)",xLabelY:867,yLabel:"Energy",yLabelX:14.5,letterX:14,letterY:619.5,letterSize:18});

const pF = setup("F",[1.10,5.61],[-69.9,-16.6]);
scatter(pF, energyIrmsdRows, energyIrmsdSingles);
decorate(pF,{xTicks:[2,3,4,5],xFmt:d3.format("d"),yTicks:[-60,-50,-40,-30,-20],yFmt:d3.format("d"),
  xLabel:"IRMSD (Å)",xLabelY:867,yLabel:"Energy",yLabelX:397,letterX:400,letterY:619.5,letterSize:18});
</script>
</body></html>
